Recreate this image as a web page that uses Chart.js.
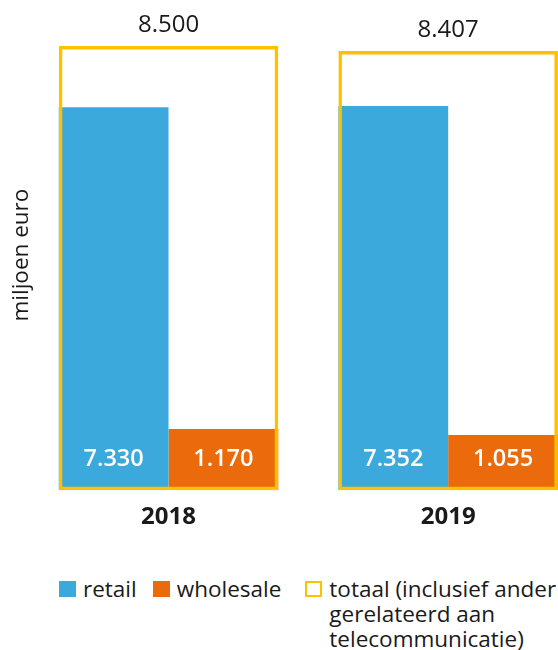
<!DOCTYPE html>
<html>
<head>
<meta charset="utf-8">
<title>Omzet telecommunicatie</title>
<script src="https://cdn.jsdelivr.net/npm/chart.js@4/dist/chart.umd.min.js"></script>
<style>
  html, body { margin: 0; padding: 0; background: #fff; }
  body { width: 558px; height: 650px; overflow: hidden; position: relative; }
  #chart { position: absolute; left: 0; top: 0; }
  #legend {
    position: absolute; left: 59px; top: 576px;
    display: flex; align-items: flex-start;
    font: 22.5px "Open Sans", sans-serif; line-height: 25px; color: #1a1a1a;
  }
  .legend-item { display: flex; align-items: flex-start; white-space: nowrap; }
  .legend-item:nth-child(1) { margin-right: 16px; }
  .legend-item:nth-child(2) { margin-right: 24px; }
  .legend-box { width: 17px; height: 16px; margin: 5px 7px 0 0; box-sizing: border-box; flex: none; }
</style>
</head>
<body>
<canvas id="chart" width="588" height="554"></canvas>
<div id="legend"></div>
<script>
const categories = ['2018', '2019'];
const retailValues = [7330, 7352];
const wholesaleValues = [1170, 1055];
const totalValues = [8500, 8407];
const seriesLabels = ['retail', 'wholesale', 'totaal (inclusief ander gerelateerd aan telecommunicatie)'];
const totalLegendLines = ['totaal (inclusief ander', 'gerelateerd aan', 'telecommunicatie)'];
const yAxisTitle = 'miljoen euro';
const yMax = 9000;

const BLUE = '#3ba9dc';
const ORANGE = '#eb6a0c';
const YELLOW = '#ffc000';
const TEXT = '#1a1a1a';
const FONT = '"Open Sans", sans-serif';

// 7330 -> "7.330"
const formatNumber = (v) => String(v).replace(/\B(?=(\d{3})+(?!\d))/g, '.');

// value inside the bars (white, near the bottom) and the total above the outlined box
const valueLabels = {
  id: 'valueLabels',
  afterDatasetsDraw(chart) {
    const { ctx } = chart;
    ctx.save();
    ctx.textAlign = 'center';
    ctx.textBaseline = 'middle';
    chart.data.datasets.forEach((ds, i) => {
      const meta = chart.getDatasetMeta(i);
      const isTotal = i === 2;
      meta.data.forEach((bar, j) => {
        const text = formatNumber(ds.data[j]);
        if (isTotal) {
          ctx.font = `400 24px ${FONT}`;
          ctx.fillStyle = TEXT;
          ctx.fillText(text, bar.x, bar.y - 21);
        } else {
          ctx.font = `600 23.5px ${FONT}`;
          ctx.fillStyle = '#fff';
          ctx.fillText(text, bar.x, bar.base - 31);
        }
      });
    });
    ctx.restore();
  }
};

const chart = new Chart(document.getElementById('chart'), {
  type: 'bar',
  data: {
    labels: categories,
    datasets: [
      {
        label: seriesLabels[0],
        data: retailValues,
        backgroundColor: BLUE,
        borderWidth: 0,
        categoryPercentage: 0.785,
        barPercentage: 1,
        order: 1
      },
      {
        label: seriesLabels[1],
        data: wholesaleValues,
        backgroundColor: ORANGE,
        borderWidth: 0,
        categoryPercentage: 0.785,
        barPercentage: 1,
        order: 2
      },
      {
        label: seriesLabels[2],
        data: totalValues,
        backgroundColor: 'rgba(0,0,0,0)',
        borderColor: YELLOW,
        borderWidth: 3.5,
        borderSkipped: false,
        grouped: false,
        categoryPercentage: 1,
        barPercentage: 0.785,
        order: 0
      }
    ]
  },
  options: {
    responsive: false,
    animation: false,
    events: [],
    layout: { padding: { top: 20, bottom: 9, left: 0, right: 0 } },
    plugins: {
      legend: { display: false },
      tooltip: { enabled: false }
    },
    scales: {
      x: {
        grid: { display: false, drawTicks: false },
        border: { display: false },
        ticks: { color: TEXT, padding: 13, font: { family: FONT, size: 24, weight: 'bold' } }
      },
      y: {
        min: 0,
        max: yMax,
        grid: { display: false, drawTicks: false },
        border: { display: false },
        ticks: { display: false },
        title: {
          display: true,
          text: yAxisTitle,
          color: TEXT,
          font: { family: FONT, size: 22.5, lineHeight: 0.6 },
          padding: { top: 15.2, bottom: 0 }
        }
      }
    }
  },
  plugins: [valueLabels]
});

// html legend, built from the chart datasets
const legend = document.getElementById('legend');
legend.innerHTML = chart.data.datasets
  .map((ds, i) => {
    const isTotal = i === 2;
    const boxStyle = isTotal
      ? `border:2.7px solid ${ds.borderColor};background:#fff`
      : `background:${ds.backgroundColor}`;
    const text = isTotal ? totalLegendLines.join('<br>') : ds.label;
    return `
    <div class="legend-item">
      <span class="legend-box" style="${boxStyle}"></span>
      <span>${text}</span>
    </div>`;
  })
  .join('');
</script>
</body>
</html>
